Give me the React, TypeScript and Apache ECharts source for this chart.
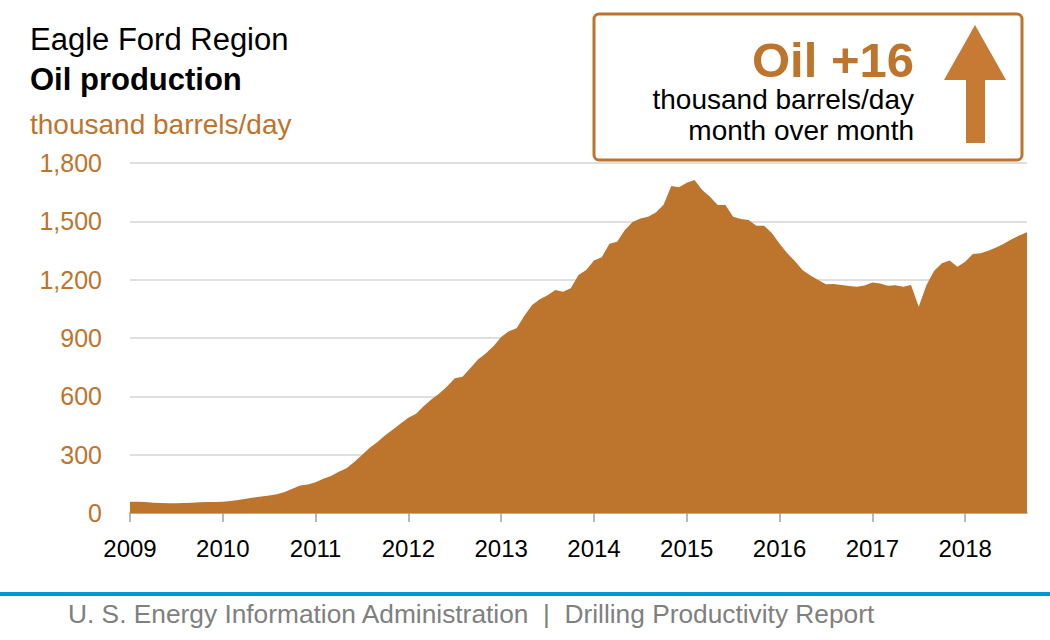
import React, { useEffect, useRef } from "react";
import * as echarts from "echarts";

const startYear = 2009;
const monthCount = 117;
const yearLabels = ["2009", "2010", "2011", "2012", "2013", "2014", "2015", "2016", "2017", "2018"];
const yTicks = [0, 300, 600, 900, 1200, 1500, 1800];

const oilProduction = [
  58, 58, 57, 53, 51, 50, 50, 51, 53, 55, 56, 57,
  58, 62, 67, 73, 80, 85, 90, 97, 108, 125, 142, 147,
  158, 176, 190, 212, 230, 262, 298, 335, 365, 400, 430, 460,
  490, 510, 550, 585, 615, 650, 693, 701, 745, 790, 820, 858,
  905, 935, 950, 1015, 1070, 1099, 1120, 1147, 1138, 1156, 1224, 1250,
  1298, 1315, 1385, 1395, 1455, 1497, 1515, 1524, 1546, 1585, 1682, 1675,
  1699, 1713, 1661, 1627, 1584, 1584, 1524, 1512, 1507, 1477, 1477, 1440,
  1385, 1336, 1295, 1248, 1222, 1198, 1176, 1178, 1172, 1167, 1164, 1170,
  1186, 1180, 1169, 1171, 1164, 1173, 1061, 1173, 1246, 1284, 1298, 1267,
  1292, 1332, 1336, 1349, 1366, 1385, 1408, 1427, 1444,
];

const months: string[] = [];
for (let i = 0; i < monthCount; i++) {
  const y = startYear + Math.floor(i / 12);
  const m = (i % 12) + 1;
  months.push(`${y}-${m < 10 ? "0" + m : m}`);
}

const ORANGE = "#bd742c";
const FONT = "'Liberation Sans', Arial, Helvetica, sans-serif";

export default function App() {
  const ref = useRef<HTMLDivElement>(null);
  useEffect(() => {
    if (!ref.current) return;
    const chart = echarts.init(ref.current, null, { renderer: "svg" });
    chart.setOption({
      animation: false,
      backgroundColor: "#ffffff",
      textStyle: { fontFamily: FONT },
      grid: { left: 130, right: 23, top: 163, bottom: 127, containLabel: false },
      xAxis: {
        type: "category",
        data: months,
        boundaryGap: false,
        axisLine: { show: true, lineStyle: { color: "#a0a0a0", width: 1.5 } },
        axisTick: {
          show: true,
          length: 9,
          interval: (idx: number) => idx % 12 === 0,
          lineStyle: { color: "#a0a0a0", width: 1.5 },
        },
        axisLabel: {
          interval: (idx: number) => idx % 12 === 0,
          formatter: (v: string) => {
            const y = v.slice(0, 4);
            return yearLabels.includes(y) ? y : "";
          },
          color: "#000000",
          fontSize: 24,
          fontFamily: FONT,
          margin: 35,
          verticalAlign: "middle",
        },
        splitLine: { show: false },
      },
      yAxis: {
        type: "value",
        min: yTicks[0],
        max: yTicks[yTicks.length - 1],
        interval: 300,
        axisLine: { show: false },
        axisTick: { show: false },
        axisLabel: {
          color: ORANGE,
          fontSize: 25,
          fontFamily: FONT,
          margin: 28,
          formatter: (v: number) => v.toLocaleString("en-US"),
        },
        splitLine: { show: true, lineStyle: { color: "#d4d4d4", width: 1.5 } },
      },
      series: [
        {
          type: "line",
          data: oilProduction,
          symbol: "none",
          lineStyle: { width: 0, color: ORANGE },
          areaStyle: { color: ORANGE, opacity: 1 },
          z: 3,
        },
      ],
      graphic: [
        { type: "text", x: 30, y: 39, style: { text: "Eagle Ford Region", fontSize: 31, fontFamily: FONT, fill: "#000", verticalAlign: "middle" } },
        { type: "text", x: 30, y: 79, style: { text: "Oil production", fontSize: 31, fontWeight: "bold", fontFamily: FONT, fill: "#000", verticalAlign: "middle" } },
        { type: "text", x: 30, y: 124, style: { text: "thousand barrels/day", fontSize: 28, fontFamily: FONT, fill: ORANGE, verticalAlign: "middle" } },
        {
          type: "rect",
          shape: { x: 594, y: 14, width: 428, height: 146, r: 5 },
          style: { fill: "#ffffff", stroke: ORANGE, lineWidth: 3 },
          z: 10,
        },
        {
          type: "text",
          x: 914, y: 60,
          style: { text: "Oil +16", fontSize: 49, fontWeight: "bold", fontFamily: FONT, fill: ORANGE, align: "right", verticalAlign: "middle" },
          z: 11,
        },
        {
          type: "text",
          x: 914, y: 99,
          style: { text: "thousand barrels/day", fontSize: 28, fontFamily: FONT, fill: "#000", align: "right", verticalAlign: "middle" },
          z: 11,
        },
        {
          type: "text",
          x: 914, y: 130,
          style: { text: "month over month", fontSize: 28, fontFamily: FONT, fill: "#000", align: "right", verticalAlign: "middle" },
          z: 11,
        },
        {
          type: "polygon",
          shape: { points: [[975, 25], [1006, 80], [944, 80]] },
          style: { fill: "#c67a33" },
          z: 11,
        },
        {
          type: "rect",
          shape: { x: 966, y: 78, width: 19, height: 65 },
          style: { fill: "#c67a33" },
          z: 11,
        },
        {
          type: "rect",
          shape: { x: 0, y: 592, width: 1050, height: 4 },
          style: { fill: "#0096d7" },
        },
        {
          type: "text",
          x: 68, y: 614,
          style: { text: "U. S. Energy Information Administration  |  Drilling Productivity Report", fontSize: 26.3, fontFamily: FONT, fill: "#808080", verticalAlign: "middle" },
        },
      ],
    });
    return () => chart.dispose();
  }, []);
  return <div ref={ref} style={{ position: "fixed", left: 0, top: 0, width: 1050, height: 640 }} />;
}
